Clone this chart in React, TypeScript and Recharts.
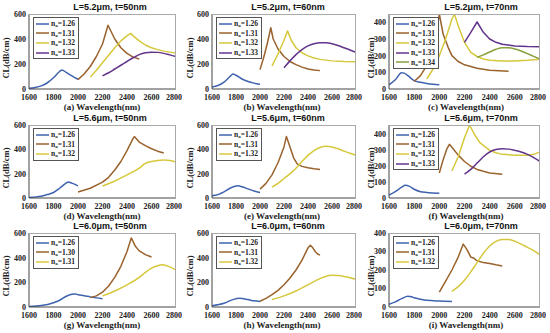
import React from 'react';
import { LineChart, Line, XAxis, YAxis } from 'recharts';

// wavelength (nm), confinement loss (dB/cm)
const wavelengthTicks = [1600, 1800, 2000, 2200, 2400, 2600, 2800];

// (a) L=5.2um, t=50nm
const a126 = [[1600, 5], [1650, 12], [1700, 25], [1750, 50], [1800, 90], [1850, 140], [1870, 153], [1900, 135], [1950, 105], [2000, 78]];
const a131 = [[2000, 75], [2050, 120], [2100, 180], [2150, 260], [2200, 360], [2245, 510], [2300, 400], [2350, 330], [2400, 285], [2450, 255], [2500, 240]];
const a132 = [[2100, 95], [2150, 150], [2200, 210], [2250, 270], [2300, 330], [2350, 385], [2400, 425], [2430, 445], [2450, 425], [2500, 385], [2550, 352], [2600, 330], [2650, 315], [2700, 303], [2750, 295], [2800, 288]];
const a133 = [[2200, 105], [2250, 130], [2300, 160], [2350, 190], [2400, 220], [2450, 250], [2500, 275], [2550, 290], [2600, 295], [2650, 293], [2700, 285], [2750, 273], [2800, 260]];

// (b) L=5.2um, t=60nm
const b126 = [[1600, 15], [1650, 28], [1700, 55], [1750, 100], [1775, 120], [1800, 110], [1850, 80], [1900, 60], [1950, 47], [2000, 38]];
const b131 = [[2000, 155], [2030, 250], [2060, 360], [2090, 490], [2110, 400], [2150, 320], [2200, 260], [2250, 220], [2300, 195], [2350, 175], [2400, 160], [2450, 152], [2500, 147]];
const b132 = [[2100, 185], [2150, 280], [2200, 390], [2230, 465], [2260, 390], [2300, 330], [2350, 290], [2400, 265], [2450, 248], [2500, 237], [2600, 225], [2700, 220], [2800, 218]];
const b133 = [[2200, 170], [2250, 225], [2300, 275], [2350, 315], [2400, 345], [2450, 362], [2500, 370], [2550, 370], [2600, 362], [2650, 348], [2700, 330], [2750, 312], [2800, 293]];

// (c) L=5.2um, t=70nm
const c126 = [[1600, 24], [1650, 55], [1700, 98], [1720, 95], [1750, 80], [1800, 50], [1850, 40], [1900, 33], [1950, 28], [2000, 25]];
const c131 = [[1800, 45], [1850, 80], [1900, 140], [1950, 250], [1980, 350], [2000, 450], [2030, 330], [2070, 250], [2100, 200], [2150, 165], [2200, 145], [2300, 125], [2400, 113], [2550, 107]];
const c132 = [[1900, 60], [1950, 120], [2000, 200], [2050, 300], [2100, 420], [2120, 450], [2150, 380], [2200, 280], [2250, 220], [2300, 195], [2350, 180], [2400, 172], [2500, 168], [2600, 168], [2700, 172], [2800, 178]];
const c133 = [[2200, 280], [2250, 340], [2300, 402], [2350, 340], [2400, 300], [2450, 280], [2500, 268], [2600, 258], [2700, 255], [2800, 254]];
const c134 = [[2300, 190], [2350, 205], [2400, 222], [2450, 238], [2500, 248], [2550, 247], [2600, 240], [2650, 228], [2700, 212], [2750, 196], [2800, 180]];

// (d) L=5.6um, t=50nm
const d126 = [[1600, 5], [1700, 15], [1750, 28], [1800, 45], [1850, 80], [1900, 120], [1920, 132], [1950, 122], [2000, 100]];
const d131 = [[2000, 50], [2100, 80], [2200, 130], [2250, 170], [2300, 230], [2350, 300], [2400, 390], [2450, 490], [2460, 505], [2500, 460], [2550, 430], [2600, 405], [2650, 385], [2700, 370]];
const d132 = [[2200, 98], [2300, 140], [2400, 190], [2500, 245], [2550, 285], [2600, 300], [2650, 308], [2700, 312], [2750, 308], [2800, 295]];

// (e) L=5.6um, t=60nm
const e126 = [[1600, 18], [1650, 28], [1700, 50], [1750, 80], [1800, 98], [1820, 100], [1850, 92], [1900, 75], [1950, 58], [2000, 46]];
const e131 = [[2000, 73], [2050, 120], [2100, 190], [2150, 290], [2200, 420], [2220, 506], [2250, 420], [2280, 330], [2310, 280], [2350, 260], [2400, 248], [2450, 240], [2500, 235]];
const e132 = [[2100, 90], [2150, 120], [2200, 160], [2250, 200], [2300, 245], [2350, 300], [2400, 350], [2450, 390], [2500, 415], [2550, 425], [2600, 420], [2650, 405], [2700, 385], [2750, 368], [2800, 350]];

// (f) L=5.6um, t=70nm
const f126 = [[1600, 18], [1650, 40], [1700, 68], [1730, 80], [1760, 75], [1800, 55], [1850, 40], [1900, 35], [2000, 30]];
const f131 = [[2000, 158], [2030, 240], [2060, 310], [2080, 338], [2100, 320], [2150, 270], [2200, 230], [2250, 200], [2300, 180], [2350, 168], [2400, 158], [2500, 150]];
const f132 = [[2100, 170], [2150, 260], [2200, 380], [2240, 460], [2280, 400], [2320, 350], [2400, 300], [2450, 285], [2500, 275], [2600, 270], [2700, 270], [2750, 275], [2800, 290]];
const f133 = [[2200, 150], [2250, 180], [2300, 220], [2350, 260], [2400, 290], [2450, 305], [2500, 310], [2550, 308], [2600, 300], [2650, 290], [2700, 275], [2750, 255], [2800, 230]];

// (g) L=6.0um, t=50nm
const g126 = [[1600, 5], [1700, 12], [1800, 35], [1850, 55], [1900, 85], [1950, 103], [1980, 105], [2000, 100], [2050, 92], [2100, 82], [2150, 74], [2200, 67]];
const g130 = [[2100, 76], [2150, 90], [2200, 120], [2250, 170], [2300, 240], [2350, 330], [2400, 450], [2435, 560], [2470, 490], [2500, 455], [2550, 425], [2600, 405]];
const g131 = [[2200, 90], [2300, 130], [2400, 180], [2500, 240], [2550, 280], [2600, 315], [2650, 335], [2690, 342], [2750, 325], [2800, 300]];

// (h) L=6.0um, t=60nm
const h126 = [[1600, 10], [1700, 30], [1780, 62], [1830, 70], [1900, 60], [1950, 50], [2000, 45]];
const h131 = [[2000, 47], [2050, 70], [2100, 100], [2150, 135], [2200, 180], [2250, 235], [2300, 300], [2350, 380], [2400, 480], [2420, 500], [2440, 480], [2460, 450], [2480, 430], [2500, 420]];
const h132 = [[2100, 60], [2200, 90], [2300, 130], [2400, 180], [2500, 230], [2550, 250], [2600, 258], [2650, 255], [2700, 248], [2750, 238], [2800, 225]];

// (i) L=6.0um, t=70nm
const i126 = [[1600, 15], [1650, 28], [1700, 45], [1750, 58], [1780, 55], [1800, 50], [1850, 42], [1900, 36], [2000, 32], [2100, 30]];
const i131 = [[2000, 80], [2050, 140], [2100, 200], [2150, 270], [2190, 340], [2220, 310], [2250, 270], [2270, 265], [2300, 250], [2350, 240], [2400, 235], [2450, 228], [2500, 222]];
const i132 = [[2100, 85], [2150, 110], [2200, 145], [2250, 190], [2300, 240], [2350, 290], [2400, 330], [2450, 355], [2500, 365], [2550, 365], [2600, 355], [2650, 340], [2700, 322], [2750, 305], [2800, 282]];

const BLUE = '#3F63AF';
const BROWN = '#9A622C';
const YELLOW = '#D6C83C';
const PURPLE = '#62348B';
const GREEN = '#86A03C';

const COLS = [{ l: 29, r: 176, yl: 6, title: 110, xl: 102 }, { l: 212, r: 356, yl: 190, title: 288, xl: 282 }, { l: 389, r: 540, yl: 371, title: 481, xl: 466 }];
const ROWS = [{ t: 14, b: 89 }, { t: 125, b: 198 }, { t: 233, b: 307 }];

type S = { na: string; color: string; pts: number[][]; sharp?: boolean };
type P = { letter: string; title: string; yMax: number; yTicks: number[]; series: S[] };

const panels: P[] = [
  { letter: 'a', title: 'L=5.2μm, t=50nm', yMax: 600, yTicks: [0, 200, 400, 600], series: [
    { na: '1.26', color: BLUE, pts: a126 }, { na: '1.31', color: BROWN, pts: a131, sharp: true }, { na: '1.32', color: YELLOW, pts: a132, sharp: true }, { na: '1.33', color: PURPLE, pts: a133 }] },
  { letter: 'b', title: 'L=5.2μm, t=60nm', yMax: 600, yTicks: [0, 200, 400, 600], series: [
    { na: '1.26', color: BLUE, pts: b126 }, { na: '1.31', color: BROWN, pts: b131, sharp: true }, { na: '1.32', color: YELLOW, pts: b132, sharp: true }, { na: '1.33', color: PURPLE, pts: b133 }] },
  { letter: 'c', title: 'L=5.2μm, t=70nm', yMax: 450, yTicks: [0, 100, 200, 300, 400], series: [
    { na: '1.26', color: BLUE, pts: c126 }, { na: '1.31', color: BROWN, pts: c131, sharp: true }, { na: '1.32', color: YELLOW, pts: c132, sharp: true }, { na: '1.33', color: PURPLE, pts: c133, sharp: true }, { na: '1.34', color: GREEN, pts: c134 }] },
  { letter: 'd', title: 'L=5.6μm, t=50nm', yMax: 600, yTicks: [0, 200, 400, 600], series: [
    { na: '1.26', color: BLUE, pts: d126 }, { na: '1.31', color: BROWN, pts: d131, sharp: true }, { na: '1.32', color: YELLOW, pts: d132 }] },
  { letter: 'e', title: 'L=5.6μm, t=60nm', yMax: 600, yTicks: [0, 200, 400, 600], series: [
    { na: '1.26', color: BLUE, pts: e126 }, { na: '1.31', color: BROWN, pts: e131, sharp: true }, { na: '1.32', color: YELLOW, pts: e132 }] },
  { letter: 'f', title: 'L=5.6μm, t=70nm', yMax: 460, yTicks: [0, 100, 200, 300, 400], series: [
    { na: '1.26', color: BLUE, pts: f126 }, { na: '1.31', color: BROWN, pts: f131, sharp: true }, { na: '1.32', color: YELLOW, pts: f132, sharp: true }, { na: '1.33', color: PURPLE, pts: f133 }] },
  { letter: 'g', title: 'L=6.0μm, t=50nm', yMax: 600, yTicks: [0, 200, 400, 600], series: [
    { na: '1.26', color: BLUE, pts: g126 }, { na: '1.30', color: BROWN, pts: g130, sharp: true }, { na: '1.31', color: YELLOW, pts: g131 }] },
  { letter: 'h', title: 'L=6.0μm, t=60nm', yMax: 600, yTicks: [0, 200, 400, 600], series: [
    { na: '1.26', color: BLUE, pts: h126 }, { na: '1.31', color: BROWN, pts: h131, sharp: true }, { na: '1.32', color: YELLOW, pts: h132 }] },
  { letter: 'i', title: 'L=6.0μm, t=70nm', yMax: 400, yTicks: [0, 100, 200, 300, 400], series: [
    { na: '1.26', color: BLUE, pts: i126 }, { na: '1.31', color: BROWN, pts: i131, sharp: true }, { na: '1.32', color: YELLOW, pts: i132 }] },
];

const serif = '"Liberation Serif", "Times New Roman", serif';
const sans = '"Liberation Sans", Arial, sans-serif';

function Panel({ p, idx }: { p: P; idx: number }) {
  const col = COLS[idx % 3];
  const row = ROWS[Math.floor(idx / 3)];
  const yw = 30;
  const mt = 5;
  const xh = 14;
  const w = col.r - col.l + yw + 6;
  const h = row.b - row.t + mt + xh;
  const tick = { fontFamily: serif, fontWeight: 700, fontSize: 8, fill: '#222' };
  return (
    <>
      <div style={{ position: 'absolute', left: col.l - yw, top: row.t - mt }}>
        <LineChart width={w} height={h} margin={{ top: mt, right: 6, bottom: 0, left: 0 }}>
          <XAxis type="number" dataKey="x" domain={[1600, 2800]} ticks={wavelengthTicks} height={xh}
            tick={tick} tickLine={false} tickSize={4} tickMargin={1.5} stroke="#444" allowDataOverflow />
          <YAxis type="number" dataKey="y" domain={[0, p.yMax]} ticks={p.yTicks} width={yw}
            tick={tick} tickLine={false} tickSize={2} tickMargin={1} stroke="#444" allowDataOverflow />
          {p.series.map((s) => (
            <Line key={s.na} data={s.pts.map(([x, y]) => ({ x, y }))} dataKey="y" type={s.sharp ? 'linear' : 'monotone'}
              stroke={s.color} strokeWidth={1.5} strokeLinejoin="round" dot={false} isAnimationActive={false} />
          ))}
        </LineChart>
      </div>
      {/* axes box top/right */}
      <div style={{ position: 'absolute', left: col.l, top: row.t, width: col.r - col.l, height: row.b - row.t,
        borderTop: '1px solid #aaa', borderRight: '1px solid #aaa', boxSizing: 'border-box', pointerEvents: 'none' }} />
      <div style={{ position: 'absolute', left: col.title, top: row.t - 7, transform: 'translate(-50%,-50%)',
        fontFamily: sans, fontWeight: 700, fontSize: 9, whiteSpace: 'nowrap', color: '#111' }}>{p.title}</div>
      <div style={{ position: 'absolute', left: col.xl, top: row.b + 18, transform: 'translate(-50%,-50%)',
        fontFamily: serif, fontWeight: 700, fontSize: 9, whiteSpace: 'nowrap', color: '#222' }}>({p.letter}) Wavelength(nm)</div>
      <div style={{ position: 'absolute', left: col.yl, top: (row.t + row.b) / 2 + 6, transform: 'translate(-50%,-50%) rotate(-90deg)',
        fontFamily: serif, fontWeight: 700, fontSize: 8.5, whiteSpace: 'nowrap', color: '#222' }}>CL(dB/cm)</div>
      <div style={{ position: 'absolute', left: col.l + 4, top: row.t + 3, background: '#fff', border: '1px solid #555',
        padding: '1px 3px 1px 2px', fontFamily: serif, fontWeight: 700, fontSize: 7.5, color: '#222' }}>
        {p.series.map((s) => (
          <div key={s.na} style={{ display: 'flex', alignItems: 'center', height: 9.6 }}>
            <svg width={13} height={4} style={{ marginRight: 2 }}>
              <line x1={0} y1={2} x2={13} y2={2} stroke={s.color} strokeWidth={1.5} />
            </svg>
            <span style={{ whiteSpace: 'nowrap' }}>n<sub style={{ fontSize: 5, verticalAlign: -1 }}>a</sub>={s.na}</span>
          </div>
        ))}
      </div>
    </>
  );
}

export default function App() {
  return (
    <div style={{ position: 'absolute', left: 0, top: 0, width: 550, height: 333, background: '#fff', overflow: 'hidden' }}>
      {panels.map((p, i) => (
        <Panel key={p.letter} p={p} idx={i} />
      ))}
    </div>
  );
}
